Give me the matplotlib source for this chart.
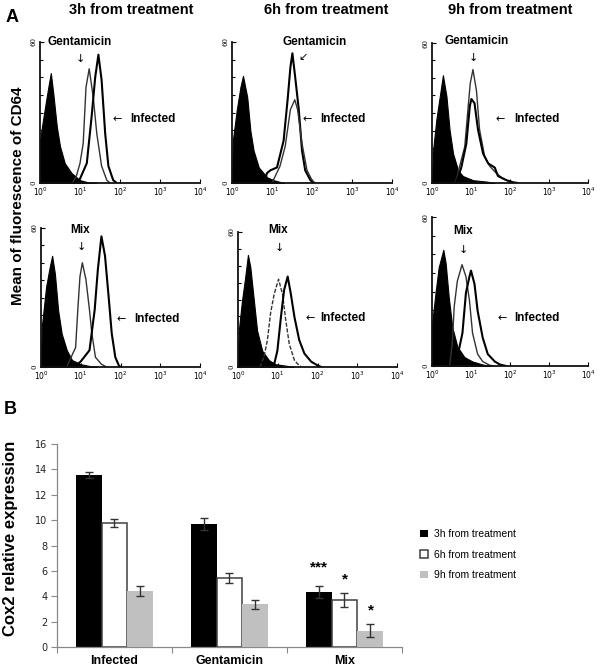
import numpy as np
import matplotlib
matplotlib.use("Agg")
import matplotlib.pyplot as plt
from matplotlib import font_manager as fm
from matplotlib.ticker import FixedLocator, NullFormatter

# ---------------- DATA ----------------
# Panel A: flow cytometry histograms, points = (log10 fluorescence, % of max count)
CTRL_TOP_3H = [(0,0),(0,30),(0.05,40),(0.15,58),(0.22,70),(0.27,78),(0.33,64),(0.42,40),(0.5,26),(0.62,14),(0.79,7),(1.0,2),(1.2,0.5),(1.4,0)]
GENT_3H = [(0.8,0),(0.9,4),(1.0,14),(1.08,28),(1.15,68),(1.23,81),(1.33,61),(1.42,35),(1.54,12),(1.67,2),(1.75,0)]
INF_TOP_3H = [(0.9,0),(1.0,3),(1.17,14),(1.29,47),(1.38,75),(1.46,91),(1.54,73),(1.63,35),(1.71,12),(1.83,2),(1.92,0)]

CTRL_TOP_6H = [(0,0),(0.02,30),(0.12,52),(0.21,68),(0.275,76),(0.38,61),(0.46,37),(0.54,23),(0.67,11),(0.88,4),(1.04,2),(1.3,0)]
GENT_6H = [(0.8,0),(0.875,7),(0.96,9),(1.125,11),(1.29,30),(1.39,59),(1.46,82),(1.51,92),(1.58,75),(1.67,52),(1.75,23),(1.83,9),(1.96,2),(2.04,0)]
INF_TOP_6H = [(1.0,0),(1.2,12),(1.33,26),(1.46,52),(1.57,59),(1.64,52),(1.75,28),(1.875,9),(2.0,2),(2.08,0)]

CTRL_TOP_9H = [(0,0),(0.03,24),(0.11,45),(0.2,62),(0.28,77),(0.37,62),(0.45,38),(0.54,21),(0.67,9),(0.79,5),(1.05,2),(1.4,1),(1.6,0)]
GENT_9H = [(0.6,0),(0.71,12),(0.84,26),(0.92,52),(0.98,71),(1.05,81),(1.14,66),(1.22,38),(1.35,19),(1.48,12),(1.65,7),(1.82,3),(1.99,1),(2.1,0)]
INF_TOP_9H = [(0.62,0),(0.75,11),(0.88,28),(0.97,55),(1.01,60),(1.09,57),(1.18,38),(1.31,21),(1.44,14),(1.61,11),(1.69,5),(1.91,2),(2.08,0.5),(2.2,0)]

CTRL_BOT_3H = [(0,0),(0.02,29),(0.13,58),(0.22,72),(0.28,80),(0.35,67),(0.43,41),(0.52,24),(0.65,12),(0.78,5),(1.0,2),(1.26,0.5),(1.4,0)]
MIX_3H = [(0.65,0),(0.74,6),(0.87,14),(0.93,43),(0.98,65),(1.04,75),(1.13,63),(1.22,41),(1.28,24),(1.37,7),(1.52,2),(1.65,0)]
INF_BOT_3H = [(0.85,0),(1.0,4),(1.22,12),(1.35,41),(1.43,70),(1.52,94),(1.61,80),(1.70,51),(1.78,24),(1.87,7),(1.96,1),(2.0,0)]

CTRL_BOT_6H = [(0,0),(0.02,27),(0.1,49),(0.17,64),(0.25,83),(0.31,74),(0.4,49),(0.48,27),(0.61,12),(0.78,5),(0.95,2),(1.2,1),(1.4,0)]
MIX_6H = [(0.55,0),(0.65,7),(0.74,20),(0.82,40),(0.91,54),(1.02,65),(1.12,54),(1.2,35),(1.29,17),(1.42,5),(1.54,1),(1.6,0)]
INF_BOT_6H = [(0.85,0),(0.91,2),(0.99,12),(1.08,37),(1.16,57),(1.25,67),(1.33,54),(1.42,37),(1.54,20),(1.67,10),(1.84,4),(2.01,1),(2.1,0)]

CTRL_BOT_9H = [(0,0),(0.0,28),(0.09,49),(0.17,66),(0.29,78),(0.35,69),(0.43,46),(0.52,26),(0.65,13),(0.83,6),(1.04,3),(1.3,1),(1.5,0)]
MIX_9H = [(0.45,0),(0.52,15),(0.57,40),(0.65,57),(0.77,68),(0.87,60),(0.96,44),(1.04,22),(1.17,8),(1.30,3),(1.48,0.5),(1.6,0)]
INF_BOT_9H = [(0.55,0),(0.65,6),(0.78,22),(0.87,49),(0.96,60),(1.0,64),(1.09,55),(1.17,37),(1.3,19),(1.43,8),(1.61,3),(1.74,1),(1.9,0)]

COLUMN_TITLES = ["3h from treatment", "6h from treatment", "9h from treatment"]
HIST_XTICK_LABELS = [r"$10^0$", r"$10^1$", r"$10^2$", r"$10^3$", r"$10^4$"]

# Panel B: Cox2 relative expression
CATEGORIES = ["Infected", "Gentamicin", "Mix"]
SERIES = ["3h from treatment", "6h from treatment", "9h from treatment"]
MEAN_3H = [13.55, 9.68, 4.36]
MEAN_6H = [9.74, 5.45, 3.7]
MEAN_9H = [4.4, 3.35, 1.28]
ERR_3H = [0.26, 0.45, 0.47]
ERR_6H = [0.31, 0.39, 0.52]
ERR_9H = [0.39, 0.32, 0.51]
MIX_STARS = ["***", "*", "*"]

# ---------------- STYLE ----------------
names = {f.name for f in fm.fontManager.ttflist}
NARROW = "Liberation Sans Narrow" if "Liberation Sans Narrow" in names else "Liberation Sans"
SANS = "Liberation Sans"

W, H = 600, 669
fig = plt.figure(figsize=(W / 100, H / 100), dpi=100)


def rect(l, t, r, b):
    return [l / W, 1 - b / H, (r - l) / W, (b - t) / H]


def ftext(x, y, s, **kw):
    fig.text(x / W, 1 - y / H, s, **kw)


def arr(pts):
    a = np.array(pts, dtype=float)
    return 10 ** a[:, 0], a[:, 1]


def hist_axes(box):
    ax = fig.add_axes(rect(*box))
    ax.set_xscale("log")
    ax.set_xlim(1, 1e4)
    ax.set_ylim(0, 100)
    for s in ("top", "right"):
        ax.spines[s].set_visible(False)
    for s in ("left", "bottom"):
        ax.spines[s].set_linewidth(1.3)
        ax.spines[s].set_color("#111111")
    ax.set_xticks([1, 10, 100, 1000, 10000])
    ax.set_xticklabels(HIST_XTICK_LABELS, fontsize=5.5, family="DejaVu Serif")
    ax.tick_params(axis="x", which="major", direction="in", length=3, pad=2, width=0.8)
    ax.tick_params(axis="x", which="minor", direction="in", length=2, width=0.7)
    ax.xaxis.set_minor_formatter(NullFormatter())
    ax.set_yticks([0, 100])
    ax.set_yticklabels(["0", "60"], fontsize=5, rotation=90, va="center", family="DejaVu Serif")
    ax.yaxis.set_minor_locator(FixedLocator([12.5, 25, 37.5, 50, 62.5, 75, 87.5]))
    ax.tick_params(axis="y", which="major", direction="in", length=3, pad=1.5, width=0.8)
    ax.tick_params(axis="y", which="minor", direction="in", length=2, width=0.8)
    ax.patch.set_alpha(0)
    return ax


panels = [
    ((40, 42, 200, 183), CTRL_TOP_3H, GENT_3H, INF_TOP_3H, "Gentamicin"),
    ((232, 42, 392, 183), CTRL_TOP_6H, GENT_6H, INF_TOP_6H, "Gentamicin"),
    ((432, 43, 588, 183), CTRL_TOP_9H, GENT_9H, INF_TOP_9H, "Gentamicin"),
    ((41, 228, 200, 367), CTRL_BOT_3H, MIX_3H, INF_BOT_3H, "Mix"),
    ((238, 232, 397, 367), CTRL_BOT_6H, MIX_6H, INF_BOT_6H, "Mix"),
    ((432, 217, 588, 366), CTRL_BOT_9H, MIX_9H, INF_BOT_9H, "Mix"),
]

for i, (box, ctrl, treat, inf, _) in enumerate(panels):
    ax = hist_axes(box)
    x, y = arr(ctrl)
    ax.fill_between(x, y, 0, color="black", linewidth=0.8, edgecolor="black")
    x, y = arr(treat)
    ls = (0, (3, 1.2)) if i == 4 else "-"
    # in the 6h top panel the treated (tall) curve is the bold one
    t_lw, t_col = (1.5, "black") if i == 1 else (1.0, "#333333")
    i_lw, i_col = (1.0, "#333333") if i == 1 else (1.5, "black")
    ax.plot(x, y, color=t_col, lw=t_lw, ls=ls)
    x, y = arr(inf)
    ax.plot(x, y, color=i_col, lw=i_lw)

# panel A annotations
lab_kw = dict(family=NARROW, fontweight="bold", fontsize=8.5, ha="center", va="center", color="black")
arrow_kw = dict(family="DejaVu Sans", fontsize=8, ha="center", va="center", color="black")
annots = [
    ((80, 42), (80, 59), "↓", (117, 119), (153, 119)),
    ((315, 42), (303, 57), "↙", (307, 119), (343, 119)),
    ((477, 41), (473, 58), "↓", (500, 119), (537, 119)),
    ((80, 230), (81, 247), "↓", (121, 319), (157, 319)),
    ((278, 230), (279, 248), "↓", (310, 318), (343, 318)),
    ((463, 231), (463, 250), "↓", (502, 318), (537, 318)),
]
for (box, _, _, _, name), (tp, ap, ach, lap, ltp) in zip(panels, annots):
    ftext(*tp, name, **lab_kw)
    ftext(*ap, ach, **arrow_kw)
    ftext(*lap, "←", **arrow_kw)
    ftext(*ltp, "Infected", **lab_kw)

title_kw = dict(family=NARROW, fontweight="bold", fontsize=10.5, ha="center", va="center")
for cx, t in zip([131, 326, 510], COLUMN_TITLES):
    ftext(cx, 10, t, **title_kw)
ftext(12, 17, "A", family=SANS, fontweight="bold", fontsize=13, ha="center", va="center")
ftext(18, 196, "Mean of fluorescence of CD64", family=NARROW, fontweight="bold",
      fontsize=11, rotation=90, ha="center", va="center")

# ---------------- Panel B ----------------
ax = fig.add_axes(rect(57, 444, 402, 647))
xc = np.arange(len(CATEGORIES))
bw = 0.226
ebkw = dict(ecolor="#333333", elinewidth=1.0, capsize=3.2, capthick=1.0)
b1 = ax.bar(xc - bw, MEAN_3H, bw, color="black", yerr=ERR_3H, error_kw=ebkw, label=SERIES[0], zorder=2)
b2 = ax.bar(xc, MEAN_6H, bw, color="white", edgecolor="#404040", linewidth=1.1,
            yerr=ERR_6H, error_kw=ebkw, label=SERIES[1], zorder=2)
b3 = ax.bar(xc + bw, MEAN_9H, bw, color="#c0c0c0", yerr=ERR_9H, error_kw=ebkw,
            label=SERIES[2], zorder=3)
ax.set_xlim(-0.5, 2.5)
ax.set_ylim(0, 16)
ax.set_yticks(range(0, 17, 2))
ax.set_yticklabels([str(v) for v in range(0, 17, 2)], family="DejaVu Sans", fontsize=7, color="#222222")
ax.tick_params(axis="y", direction="out", length=4, color="#888888", width=0.8, pad=3)
ax.set_xticks([-0.5, 0.5, 1.5, 2.5])
ax.set_xticklabels([])
ax.tick_params(axis="x", direction="out", length=4, color="#888888", width=0.8)
for s in ("top", "right"):
    ax.spines[s].set_visible(False)
for s in ("left", "bottom"):
    ax.spines[s].set_color("#888888")
    ax.spines[s].set_linewidth(0.9)
for i, c in enumerate(CATEGORIES):
    ax.text(xc[i], -0.65, c, family=NARROW, fontweight="bold", fontsize=9,
            ha="center", va="top", transform=ax.transData)
# significance stars for Mix
offs = [1.45, 1.1, 1.1]
tops = [MEAN_3H[2] + ERR_3H[2], MEAN_6H[2] + ERR_6H[2], MEAN_9H[2] + ERR_9H[2]]
for k, (s, t, o) in enumerate(zip(MIX_STARS, tops, offs)):
    ax.text(xc[2] + (k - 1) * bw, t + o, s, ha="center", va="center",
            family=SANS, fontweight="bold", fontsize=11)
ax.patch.set_alpha(0)

ftext(10, 410, "B", family=SANS, fontweight="bold", fontsize=13, ha="center", va="center")
ftext(11, 538, "Cox2 relative expression", family=SANS, fontweight="bold", fontsize=12,
      rotation=90, ha="center", va="center")

fig.legend(handles=[b1, b2, b3], labels=SERIES, loc="upper left",
           bbox_to_anchor=(416 / W, 1 - 525 / H), frameon=False,
           prop={"family": SANS, "size": 7.5}, handlelength=0.75, handleheight=0.75,
           handletextpad=0.6, labelspacing=1.0, borderaxespad=0)

fig.savefig("out.png", dpi=100)
